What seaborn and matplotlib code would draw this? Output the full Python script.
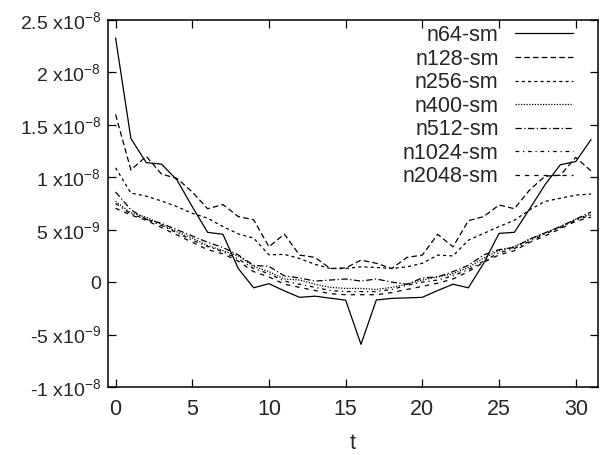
import numpy as np
import pandas as pd
import matplotlib
matplotlib.use("Agg")
import matplotlib.pyplot as plt
import seaborn as sns
from matplotlib.ticker import FixedLocator, FuncFormatter

# Time slices
t = list(range(32))

# Correlator values per lattice size (units of 1e-9)
n64 = [23.3, 13.7, 11.4, 11.25, 9.75, 7.2, 4.75, 4.56, 1.3, -0.54, -0.15, -0.83, -1.45, -1.34, -1.53, -1.72,
       -5.93, -1.7, -1.55, -1.5, -1.45, -0.8, -0.2, -0.54, 1.8, 4.65, 4.75, 7.0, 9.3, 11.2, 11.5, 13.6]
n128 = [16.0, 10.7, 12.0, 10.3, 9.9, 8.6, 7.0, 7.4, 6.25, 5.95, 3.37, 4.58, 2.58, 2.36, 1.3, 1.35,
        2.1, 1.8, 1.3, 2.36, 2.58, 4.56, 3.37, 5.86, 6.25, 7.36, 7.0, 8.8, 10.1, 10.2, 11.9, 10.6]
n256 = [10.9, 8.5, 8.2, 7.74, 7.2, 6.57, 6.1, 5.3, 4.6, 4.2, 2.6, 2.65, 2.25, 1.7, 1.3, 1.3,
        1.46, 1.4, 1.3, 1.46, 1.8, 2.58, 2.5, 4.0, 4.65, 5.3, 5.9, 6.9, 7.7, 8.0, 8.3, 8.4]
n400 = [7.7, 6.6, 6.2, 5.5, 4.8, 4.2, 3.5, 3.0, 2.5, 1.5, 1.0, 0.3, 0.2, -0.2, -0.5, -0.6,
        -0.6, -0.7, -0.5, -0.2, 0.2, 0.5, 0.8, 1.4, 2.3, 3.0, 3.4, 4.1, 4.7, 5.3, 6.0, 6.5]
n512 = [8.6, 6.9, 6.0, 5.6, 5.0, 4.4, 3.8, 3.3, 2.6, 1.6, 1.5, 0.6, 0.4, 0.1, 0.2, 0.3,
        0.1, 0.3, 0.0, -0.2, 0.4, 0.5, 1.0, 1.6, 2.6, 3.1, 3.3, 4.1, 4.7, 5.3, 6.0, 6.7]
n1024 = [7.5, 6.5, 6.0, 5.4, 4.7, 4.0, 3.4, 2.9, 2.2, 1.3, 0.8, 0.1, -0.2, -0.5, -0.8, -0.9,
         -0.9, -0.9, -0.7, -0.3, 0.0, 0.2, 0.6, 1.2, 2.0, 2.8, 3.2, 3.9, 4.6, 5.2, 5.9, 6.4]
n2048 = [7.05, 6.4, 5.9, 5.2, 4.5, 3.8, 3.1, 2.7, 2.0, 1.0, 0.5, -0.2, -0.5, -0.8, -1.1, -1.2,
         -1.2, -1.2, -1.0, -0.7, -0.4, -0.1, 0.3, 1.0, 1.9, 2.6, 3.0, 3.8, 4.4, 5.1, 5.8, 6.2]

series_names = ["n64-sm", "n128-sm", "n256-sm", "n400-sm", "n512-sm", "n1024-sm", "n2048-sm"]
series_values = [n64, n128, n256, n400, n512, n1024, n2048]

y_ticks = [-1e-8, -5e-9, 0, 5e-9, 1e-8, 1.5e-8, 2e-8, 2.5e-8]
x_ticks = [0, 5, 10, 15, 20, 25, 30]

frames = []
for name, vals in zip(series_names, series_values):
    frames.append(pd.DataFrame({"t": t, "value": np.array(vals) * 1e-9, "series": name}))
df = pd.concat(frames, ignore_index=True)

sns.set_style("ticks")
plt.rcParams["font.family"] = ["Liberation Sans", "DejaVu Sans"]
plt.rcParams["mathtext.fontset"] = "custom"
plt.rcParams["mathtext.rm"] = "Liberation Sans"
plt.rcParams["mathtext.default"] = "regular"

fig = plt.figure(figsize=(6.13, 4.55), dpi=100)
ax = fig.add_axes([0.176, 0.1495, 0.7995, 0.8065])

dash_styles = {
    "n64-sm": "",
    "n128-sm": (4.5, 2.5),
    "n256-sm": (2.5, 2.5),
    "n400-sm": (1, 1.2),
    "n512-sm": (5, 2, 1, 2),
    "n1024-sm": (3, 3, 1, 3),
    "n2048-sm": (3.5, 4),
}
palette = {name: "black" for name in series_names}

sns.lineplot(data=df, x="t", y="value", hue="series", style="series",
             hue_order=series_names, style_order=series_names,
             palette=palette, dashes=dash_styles, estimator=None,
             linewidth=0.9, ax=ax)

ax.set_xlim(-0.5, 31.45)
ax.set_ylim(-1e-8, 2.5e-8)


def fmt_y(v, pos):
    if abs(v) < 1e-20:
        return "0"
    exp = int(np.floor(np.log10(abs(v))))
    mant = v / 10 ** exp
    if abs(mant - round(mant)) < 1e-6:
        m = "%d" % round(mant)
    else:
        m = "%.1f" % mant
    return m + r" x10$^{-%d}$" % (-exp)


ax.yaxis.set_major_locator(FixedLocator(y_ticks))
ax.yaxis.set_major_formatter(FuncFormatter(fmt_y))
ax.xaxis.set_major_locator(FixedLocator(x_ticks))

ax.tick_params(direction="in", length=6, width=0.9, top=True, right=True,
               color="black")
ax.tick_params(axis="x", labelsize=15.5, pad=9)
ax.tick_params(axis="y", labelsize=14, pad=5)
for s in ax.spines.values():
    s.set_linewidth(1.1)
    s.set_color("black")

ax.set_xlabel("t", fontsize=15.5, labelpad=9)
ax.set_ylabel("")

handles, labels = ax.get_legend_handles_labels()
ax.legend(handles, labels, loc="upper right", frameon=False, markerfirst=False,
          fontsize=15.5, handlelength=2.7, handletextpad=0.75, labelspacing=0.12,
          borderaxespad=0.0, bbox_to_anchor=(0.9665, 1.01))

fig.savefig("out.png", dpi=100)
